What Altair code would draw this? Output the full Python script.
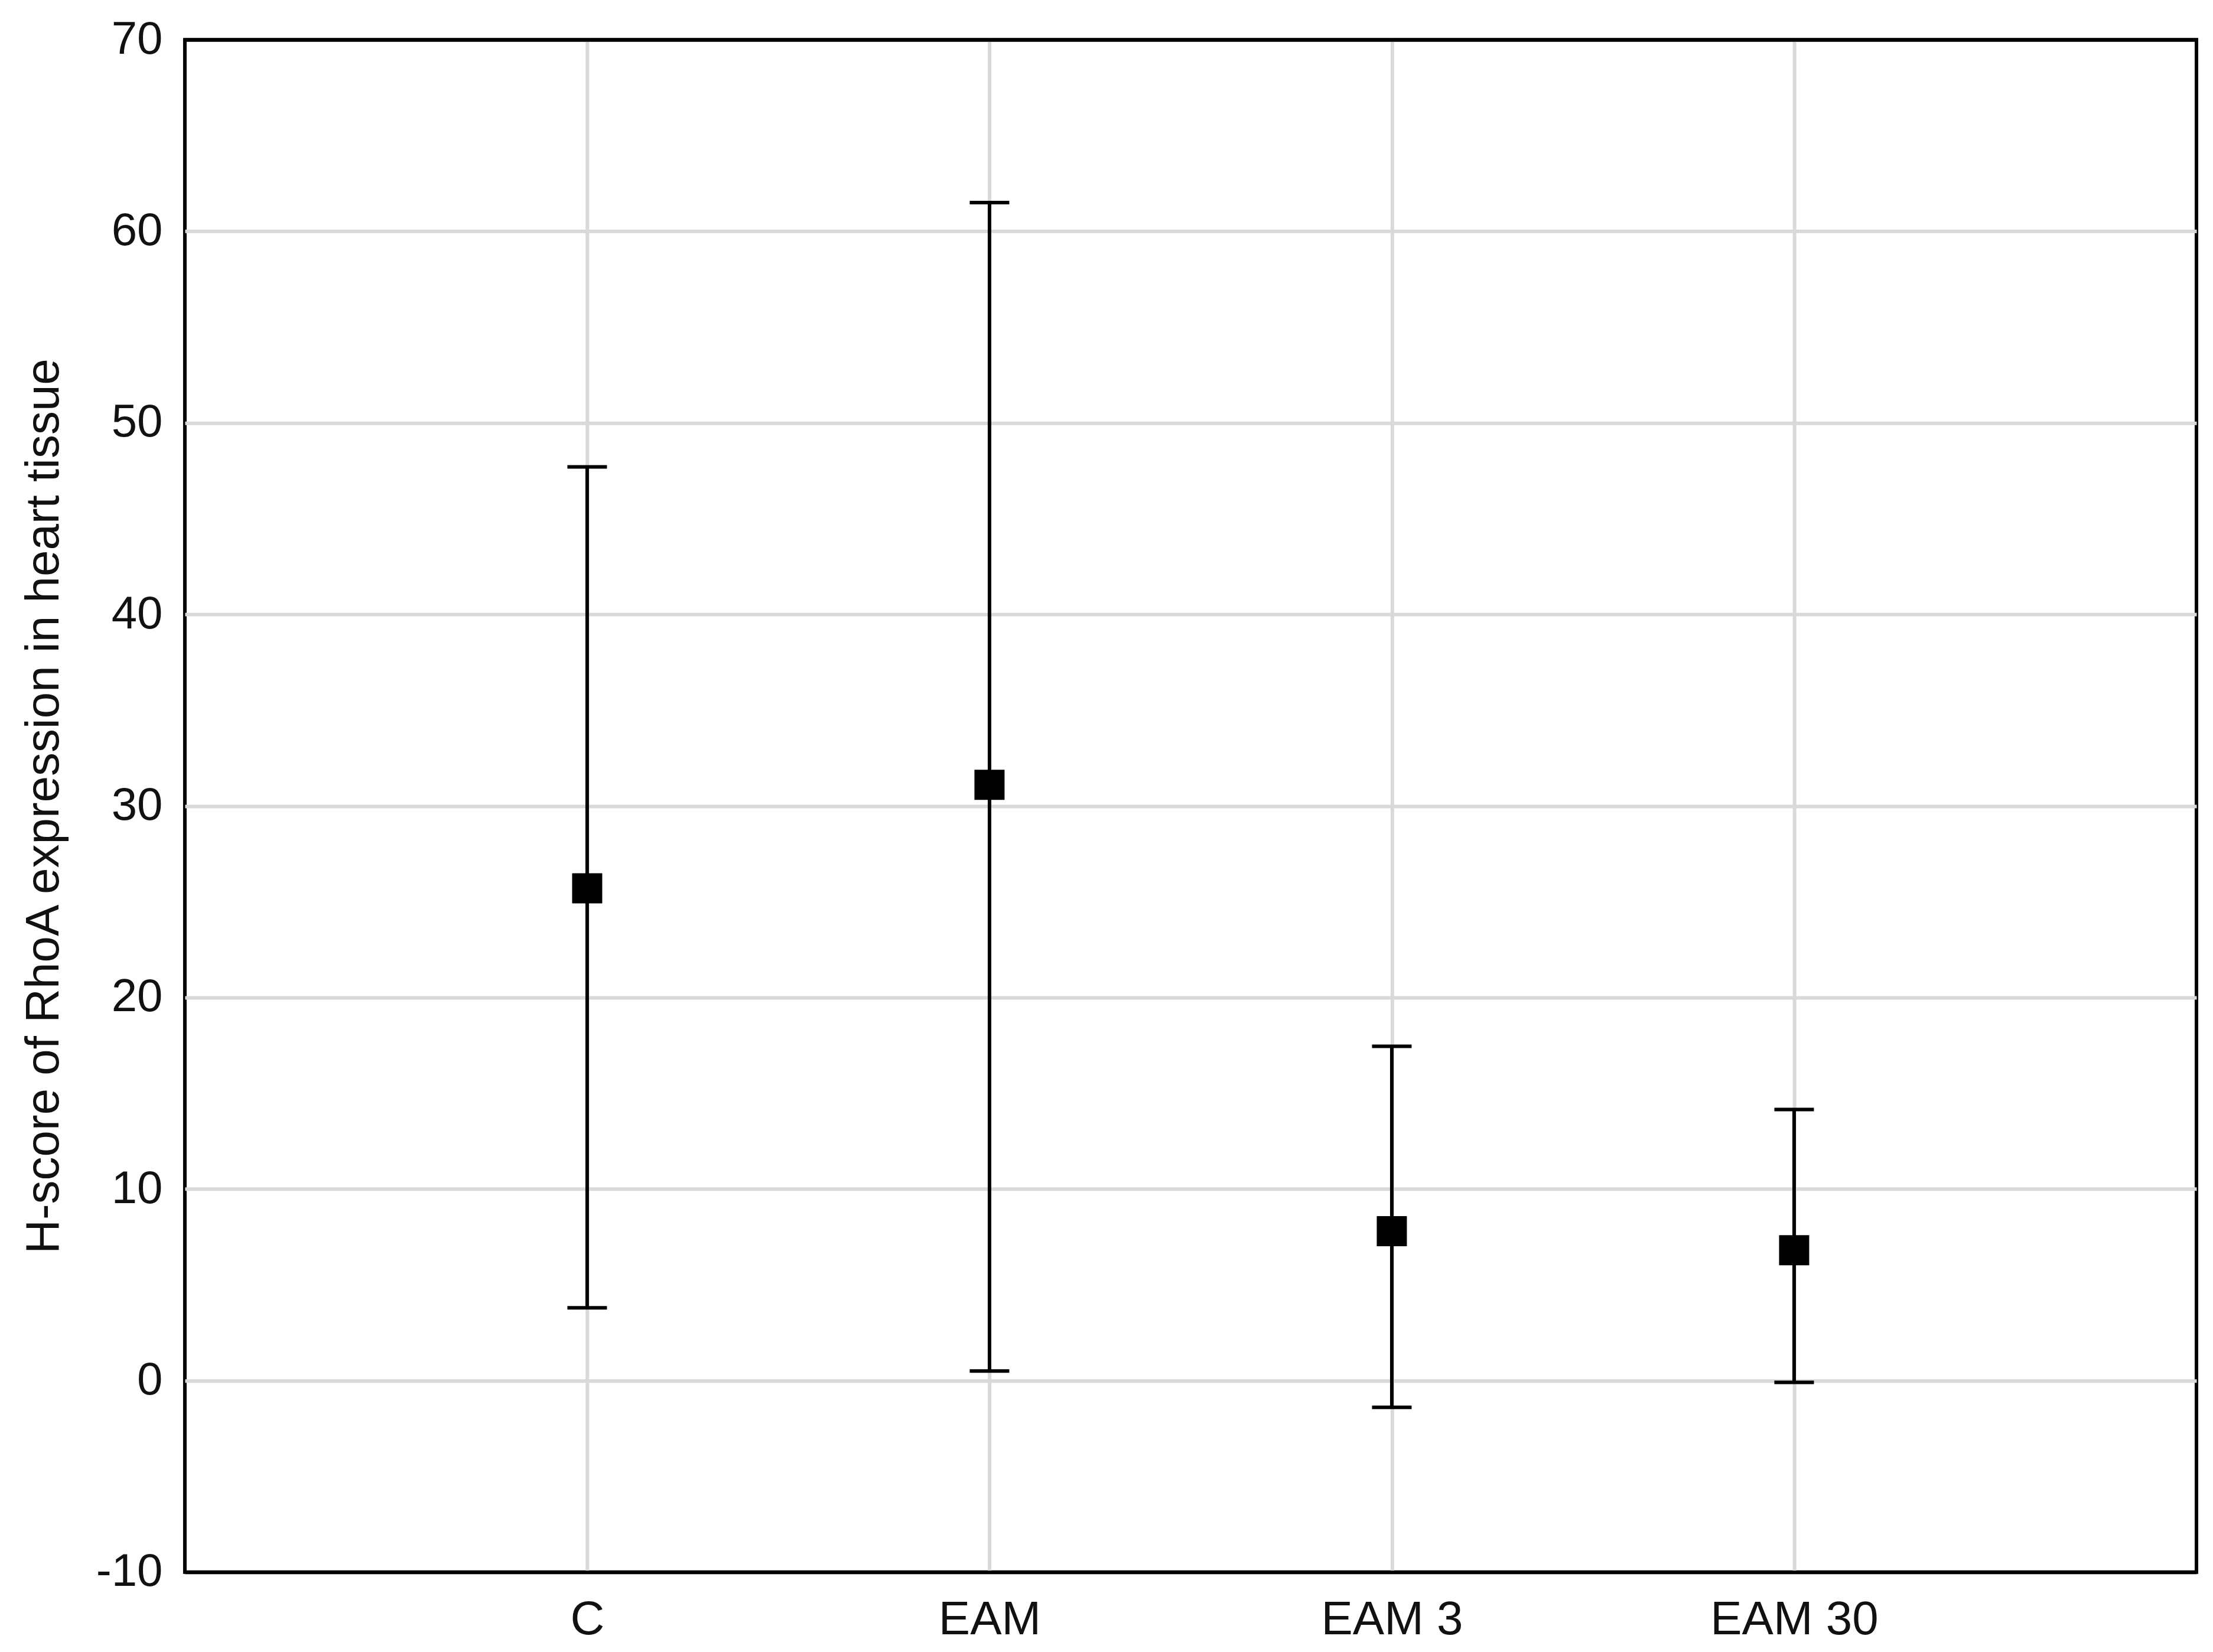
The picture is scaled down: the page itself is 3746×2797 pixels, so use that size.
import altair as alt
import pandas as pd

groups = ["C", "EAM", "EAM 3", "EAM 30"]
means = [25.7, 31.1, 7.8, 6.8]
upper = [47.7, 61.5, 17.45, 14.15]
lower = [3.8, 0.5, -1.4, -0.1]

y_ticks = [-10, 0, 10, 20, 30, 40, 50, 60, 70]

df = pd.DataFrame({"group": groups, "mean": means, "upper": upper, "lower": lower})

FONT = "Liberation Sans"

x_enc = alt.X(
    "group:N",
    sort=groups,
    scale=alt.Scale(type="point", padding=1),
    axis=alt.Axis(
        title=None, labelFont=FONT, labelFontSize=80, labelColor="#111111",
        labelPadding=42, ticks=False, domain=False, grid=True, labelLimit=0,
        gridColor="#d9d9d9", gridWidth=6, labelAngle=0,
    ),
)
y_scale = alt.Scale(domain=[-10, 70], nice=False, zero=False)
y_axis = alt.Axis(
    title="H-score of RhoA expression in heart tissue",
    values=y_ticks, labelFont=FONT, labelFontSize=78, labelColor="#111111",
    labelPadding=38, ticks=False, domain=False, grid=True, labelLimit=0,
    gridColor=alt.condition("datum.value == 70 || datum.value == -10",
                            alt.value("black"), alt.value("#d9d9d9")),
    gridWidth=6,
    labelExpr="datum.value < 0 ? '-' + format(-datum.value, 'd') : datum.label",
    titleFont=FONT, titleFontSize=80, titleFontWeight="normal", titleColor="#111111",
    titlePadding=47,
)

base = alt.Chart(df)

bars = base.mark_rule(color="black", strokeWidth=6).encode(
    x=x_enc,
    y=alt.Y("lower:Q", scale=y_scale, axis=y_axis),
    y2="upper:Q",
)
cap_hi = base.mark_tick(color="black", thickness=6, size=67, opacity=1).encode(
    x=alt.X("group:N", sort=groups), y=alt.Y("upper:Q")
)
cap_lo = base.mark_tick(color="black", thickness=6, size=67, opacity=1).encode(
    x=alt.X("group:N", sort=groups), y=alt.Y("lower:Q")
)
pts = base.mark_point(shape="square", filled=True, color="black", size=2600, opacity=1).encode(
    x=alt.X("group:N", sort=groups), y=alt.Y("mean:Q")
)

chart = (
    alt.layer(bars, cap_hi, cap_lo, pts)
    .properties(
        width=3406, height=2595,
        autosize=alt.AutoSizeParams(type="none"),
        padding={"left": 305, "top": 59, "right": 20, "bottom": 128},
        background="white",
    )
    .configure_view(stroke="black", strokeWidth=6)
)

chart.save("out.html", embed_options={"renderer": "svg", "actions": False})
